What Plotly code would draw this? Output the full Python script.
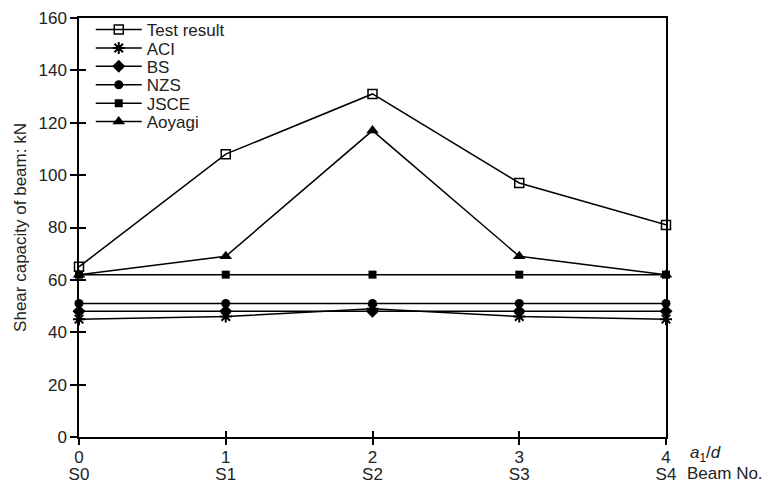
import plotly.graph_objects as go

x_vals = [0, 1, 2, 3, 4]
beam_labels = ["S0", "S1", "S2", "S3", "S4"]
test_result = [65, 108, 131, 97, 81]
aci = [45, 46, 49, 46, 45]
bs = [48, 48, 48, 48, 48]
nzs = [51, 51, 51, 51, 51]
jsce = [62, 62, 62, 62, 62]
aoyagi = [62, 69, 117, 69, 62]
y_ticks = [0, 20, 40, 60, 80, 100, 120, 140, 160]

FONT = "Liberation Sans, Arial, sans-serif"
TXT = "#222"
series = [
    ("Test result", test_result, dict(symbol="square-open", size=9, line=dict(width=1.5, color="black"))),
    ("ACI", aci, dict(symbol="asterisk-open", size=10, line=dict(width=2, color="black"))),
    ("BS", bs, dict(symbol="diamond", size=10)),
    ("NZS", nzs, dict(symbol="circle", size=9)),
    ("JSCE", jsce, dict(symbol="square", size=8)),
    ("Aoyagi", aoyagi, dict(symbol="triangle-up", size=11)),
]

fig = go.Figure()
legends = {}
for i, (name, vals, mk) in enumerate(series):
    mk = dict(mk)
    mk.setdefault("color", "black")
    lname = "legend" if i == 0 else f"legend{i + 1}"
    fig.add_trace(go.Scatter(
        x=x_vals, y=vals, name=name, mode="lines+markers", legend=lname,
        line=dict(color="black", width=1.5), marker=mk, cliponaxis=False,
    ))
    legends[lname] = dict(
        x=0.02, y=1 - (12 + 18.4 * i) / 419, xanchor="left", yanchor="middle",
        bgcolor="rgba(0,0,0,0)", font=dict(size=17, color=TXT, family=FONT),
        itemwidth=46,
    )

# invisible trace to host inner tick axes
fig.add_trace(go.Scatter(x=[0], y=[0], xaxis="x2", yaxis="y2", mode="markers",
                         marker=dict(opacity=0), showlegend=False, hoverinfo="skip"))

fig.update_layout(
    width=770, height=488,
    margin=dict(l=79, r=104, t=18, b=51),
    paper_bgcolor="white", plot_bgcolor="white",
    font=dict(family=FONT, size=17, color=TXT),
    showlegend=True,
    xaxis=dict(range=[0, 4], tickvals=x_vals, ticktext=[str(v) for v in x_vals],
               automargin=False, ticklabelstandoff=-2,
               showgrid=False, zeroline=False, showline=True, linecolor="black",
               linewidth=1.5, mirror=True, ticks="outside", ticklen=6,
               tickcolor="black", tickwidth=1.5, tickfont=dict(size=17, color=TXT)),
    yaxis=dict(range=[0, 160], tickvals=y_ticks, showgrid=False, zeroline=False,
               automargin=False,
               showline=True, linecolor="black", linewidth=1.5, mirror=True,
               ticks="outside", ticklen=7, tickcolor="black", tickwidth=1.5,
               tickfont=dict(size=17, color=TXT),
               title=dict(text="Shear capacity of beam: kN", font=dict(size=17, color=TXT), standoff=8)),
    xaxis2=dict(range=[0, 4], tickvals=x_vals, ticktext=beam_labels, overlaying="x",
                side="bottom", anchor="y2", ticklabelstandoff=25,
                showticklabels=True, ticks="inside", ticklen=6, tickcolor="black",
                tickfont=dict(size=17, color=TXT),
                tickwidth=1.5, showgrid=False, zeroline=False, showline=False, automargin=False),
    yaxis2=dict(range=[0, 160], tickvals=y_ticks, overlaying="y", side="left", anchor="x2",
                showticklabels=False, ticks="inside", ticklen=7, tickcolor="black",
                tickwidth=1.5, showgrid=False, zeroline=False, showline=False, automargin=False),
    annotations=[
        dict(text="<i>a</i><sub>1</sub>/<i>d</i>", xref="paper", yref="paper",
             x=1.0, y=0, xshift=22, yshift=-4, xanchor="left", yanchor="top",
             showarrow=False, font=dict(size=17, color=TXT)),
        dict(text="Beam No.", xref="paper", yref="paper",
             x=1.0, y=0, xshift=19, yshift=-25, xanchor="left", yanchor="top",
             showarrow=False, font=dict(size=17, color=TXT)),
    ],
    **legends,
)

fig.write_html("out.html", config={"displayModeBar": False},
               post_script="document.body.style.margin='0';document.body.style.overflow='hidden';")
